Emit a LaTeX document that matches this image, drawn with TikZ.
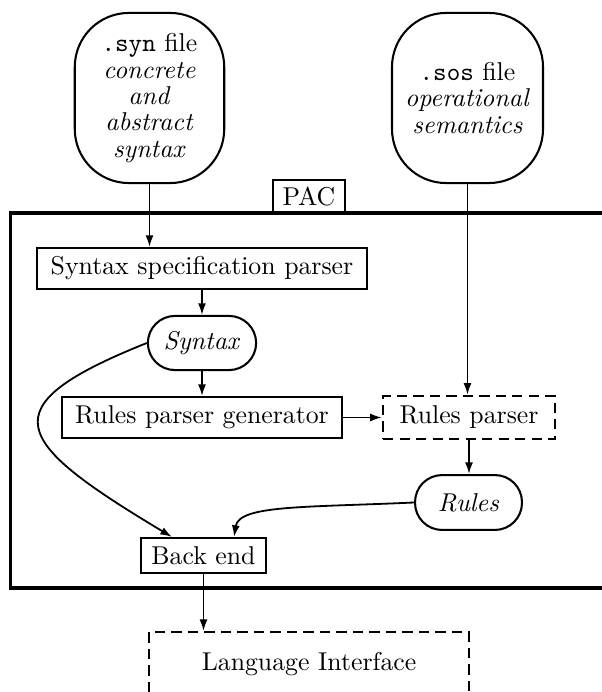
\documentclass[tikz,border=0pt]{standalone}
\usetikzlibrary{arrows.meta}
\begin{document}
\begin{tikzpicture}[x=0.388pt,y=-0.388pt,
  box/.style={draw,line width=0.8pt,inner sep=0pt,minimum height=15.9pt},
  dbox/.style={draw,line width=0.95pt,dash pattern=on 4pt off 2.4pt,inner sep=0pt},
  pill/.style={draw,line width=0.8pt,inner sep=0pt,minimum width=42pt,minimum height=21pt,rounded corners=10.5pt},
  filebox/.style={draw,line width=0.8pt,inner sep=0pt,minimum width=58pt,minimum height=66pt,rounded corners=21pt,align=center,font=\fontsize{10}{10.2}\selectfont},
  conn/.style={line width=0.7pt,-{Latex[length=4.5pt,width=3.1pt]}}]
\useasboundingbox (0,0) rectangle (601,692);
% container
\node[draw,line width=1.2pt,minimum width=244pt,minimum height=145.5pt,inner sep=0pt] (pacbox) at (325,400.5) {};
\node[box,minimum width=27.9pt,minimum height=12.8pt] (paclabel) at (309,196.5) {PAC};
% input files
\node[filebox] (syn) at (149.5,98) {\texttt{.syn} file\\\textit{concrete}\\\textit{and}\\\textit{abstract}\\\textit{syntax}};
\node[filebox,minimum width=58.6pt] (sos) at (467.5,98) {\texttt{.sos} file\\\textit{operational}\\\textit{semantics}};
% inner nodes
\node[box,minimum width=128pt] (spec) at (202,268.5) {Syntax specification parser};
\node[pill] (syntax) at (202,343) {\textit{Syntax}};
\node[box,minimum width=108.3pt] (rpg) at (202,417.5) {Rules parser generator};
\node[dbox,minimum width=66.7pt,minimum height=16.7pt] (rp) at (469,417.5) {Rules parser};
\node[pill,minimum width=41.5pt,minimum height=21.3pt] (rules) at (468.5,502.5) {\textit{Rules}};
\node[box,minimum width=48.5pt,minimum height=13.6pt] (backend) at (203.5,555.5) {Back end};
\node[dbox,minimum width=124.2pt,text height=14.7pt,text depth=12pt,inner ysep=0pt,anchor=north] (li) at (309,631) {Language Interface};
% connectors
\draw[conn] (syn.south) -- (syn.south |- spec.north);
\draw[conn] (sos.south) -- (sos.south |- rp.north);
\draw[conn] (spec.south) -- (spec.south |- syntax.north);
\draw[conn] (syntax.south) -- (syntax.south |- rpg.north);
\draw[conn] (rpg.east) -- (rpg.east -| rp.west);
\draw[conn] (rp.south) -- (rp.south |- rules.north);
\draw[conn] (syntax.west) .. controls +(-160,64) and +(-160,-96) .. ([xshift=12.4pt]backend.north west);
\draw[conn] (rules.west) .. controls +(-110,5) and +(5,-32) .. ([xshift=-12.8pt]backend.north east);
\draw[conn] (backend.south) -- (backend.south |- li.north);
\end{tikzpicture}
\end{document}
